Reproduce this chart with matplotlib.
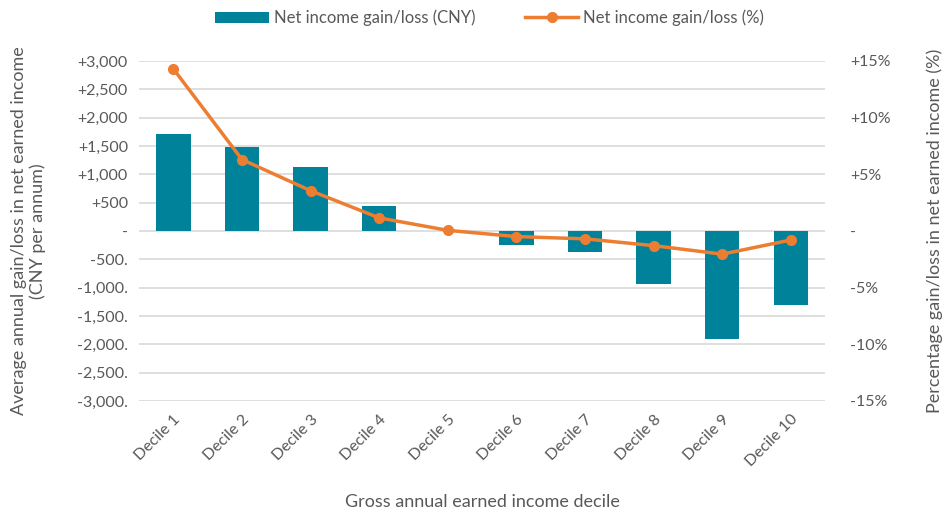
import numpy as np
from matplotlib import pyplot as plt
from matplotlib.ticker import FixedLocator, FixedFormatter

plt.rcParams['font.family'] = ['Lato', 'DejaVu Sans']

deciles = ['Decile 1', 'Decile 2', 'Decile 3', 'Decile 4', 'Decile 5',
           'Decile 6', 'Decile 7', 'Decile 8', 'Decile 9', 'Decile 10']
gain_cny = [1710, 1475, 1135, 445, 0, -255, -380, -940, -1900, -1300]
gain_pct = [14.3, 6.3, 3.55, 1.15, 0.05, -0.5, -0.7, -1.3, -2.05, -0.8]

left_ticks = [3000, 2500, 2000, 1500, 1000, 500, 0, -500, -1000, -1500, -2000, -2500, -3000]
left_labels = ['+3,000', '+2,500', '+2,000', '+1,500', '+1,000', '+500', '-',
               '-500.', '-1,000.', '-1,500.', '-2,000.', '-2,500.', '-3,000.']
right_ticks = [15, 10, 5, 0, -5, -10, -15]
right_labels = ['+15%', '+10%', '+5%', '-', '-5%', '-10%', '-15%']

teal = '#00829B'
orange = '#ED7D31'
grey = '#595959'

fig = plt.figure(figsize=(9.42, 5.12), dpi=100)
ax = fig.add_axes([0.1476, 0.217, 0.7284, 0.664])
x = np.arange(len(deciles))

ax.bar(x, gain_cny, width=0.5, color=teal, label='Net income gain/loss (CNY)', zorder=2)
ax.set_ylim(-3000, 3000)
ax.set_xlim(-0.5, len(deciles) - 0.5)
ax.yaxis.set_major_locator(FixedLocator(left_ticks))
ax.yaxis.set_major_formatter(FixedFormatter(left_labels))
ax.grid(axis='y', color='#D9D9D9', linewidth=1.2, zorder=0)
ax.set_axisbelow(True)
for s in ax.spines.values():
    s.set_visible(False)
ax.tick_params(axis='both', length=0, labelsize=11.5, colors=grey, pad=8)
ax.set_xticks(x)
ax.set_xticklabels(deciles, rotation=45, ha='right', rotation_mode='anchor')
ax.set_ylabel('Average annual gain/loss in net earned income\n(CNY per annum)',
              fontsize=13, color=grey, labelpad=22)
ax.set_xlabel('Gross annual earned income decile', fontsize=13, color=grey, labelpad=18)

ax2 = ax.twinx()
ax2.plot(x, gain_pct, color=orange, linewidth=2.5, marker='o', markersize=7,
         label='Net income gain/loss (%)', zorder=3)
ax2.set_ylim(-15, 15)
ax2.yaxis.set_major_locator(FixedLocator(right_ticks))
ax2.yaxis.set_major_formatter(FixedFormatter(right_labels))
for s in ax2.spines.values():
    s.set_visible(False)
ax2.tick_params(axis='y', length=0, labelsize=11.5, colors=grey, pad=18)
ax2.set_ylabel('Percentage gain/loss in net earned income (%)',
               fontsize=13, color=grey, labelpad=26)

h1, l1 = ax.get_legend_handles_labels()
h2, l2 = ax2.get_legend_handles_labels()
leg = fig.legend(h1 + h2, l1 + l2, loc='center', bbox_to_anchor=(0.52, 0.965),
                 ncol=2, frameon=False, fontsize=12, handlelength=3.2,
                 columnspacing=3, handletextpad=0.3)
for t in leg.get_texts():
    t.set_color(grey)

fig.savefig('out.png', dpi=100)
